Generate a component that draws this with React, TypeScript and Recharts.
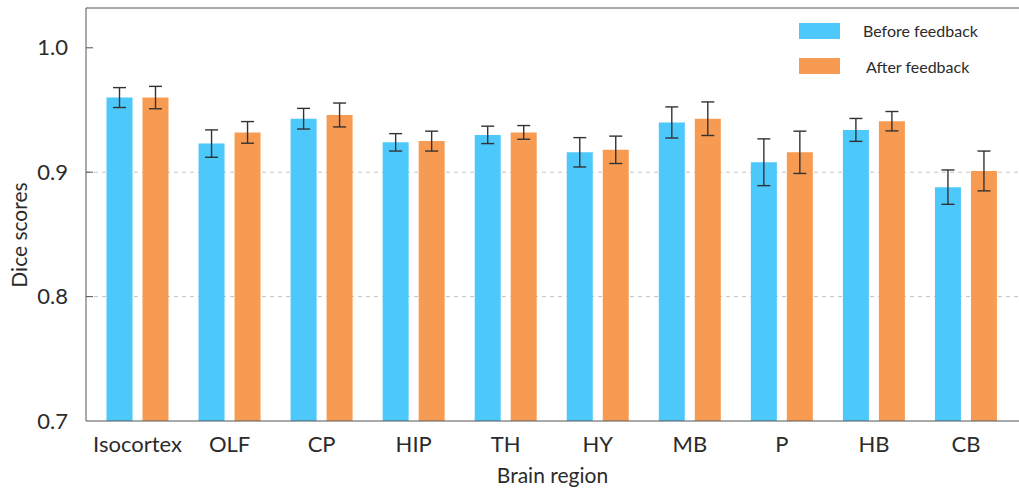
import React from 'react';
import {
  BarChart,
  Bar,
  XAxis,
  YAxis,
  CartesianGrid,
  ErrorBar,
  ReferenceLine,
  Legend,
} from 'recharts';

const regions = ['Isocortex', 'OLF', 'CP', 'HIP', 'TH', 'HY', 'MB', 'P', 'HB', 'CB'];
const seriesNames = ['Before feedback', 'After feedback'];
const beforeScores = [0.96, 0.923, 0.943, 0.924, 0.93, 0.916, 0.94, 0.908, 0.934, 0.888];
const beforeErrors = [0.008, 0.011, 0.0083, 0.007, 0.007, 0.0118, 0.0125, 0.0188, 0.0092, 0.0138];
const afterScores = [0.96, 0.932, 0.946, 0.925, 0.932, 0.918, 0.943, 0.916, 0.941, 0.901];
const afterErrors = [0.009, 0.0087, 0.0096, 0.008, 0.0055, 0.011, 0.0135, 0.017, 0.0078, 0.016];
const yTicks = [0.7, 0.8, 0.9, 1.0];
const gridValues = [0.8, 0.9];
const yMax = 1.032;

const data = regions.map((region, i) => ({
  region,
  before: beforeScores[i],
  beforeErr: beforeErrors[i],
  after: afterScores[i],
  afterErr: afterErrors[i],
}));

const FONT = 'Lato, "Open Sans", sans-serif';
const TEXT = '#2b2b2b';
const AXIS = '#555';

const YTick = ({ x, y, payload }: any) => (
  <g>
    {payload.value > 0.7 && (
      <line x1={x} x2={x + 7} y1={y} y2={y} stroke={AXIS} strokeWidth={1} />
    )}
    <text x={x - 18} y={y} dy={7.5} textAnchor="end" fontSize={22} fill={TEXT} fontFamily={FONT}>
      {payload.value.toFixed(1)}
    </text>
  </g>
);

const LegendBox = ({ payload }: any) => {
  const items = [...(payload || [])].sort(
    (a: any, b: any) => seriesNames.indexOf(a.value) - seriesNames.indexOf(b.value)
  );
  return (
    <div style={{ fontFamily: FONT, fontSize: 16, color: TEXT }}>
      {items.map((p: any, i: number) => (
        <div
          key={p.value}
          style={{ display: 'flex', alignItems: 'center', height: 16, marginBottom: i === 0 ? 19.5 : 0 }}
        >
          <div style={{ width: 41, height: 16, background: p.color }} />
          <span style={{ marginLeft: 23 + i * 3 }}>{p.value}</span>
        </div>
      ))}
    </div>
  );
};

const YLabel = () => (
  <text
    x={18}
    y={235}
    transform="rotate(-90 18 235)"
    textAnchor="middle"
    dominantBaseline="central"
    fontSize={21}
    fill={TEXT}
    fontFamily={FONT}
  >
    Dice scores
  </text>
);

const XLabel = ({ viewBox }: any) => (
  <text
    x={viewBox.x + viewBox.width / 2}
    y={483}
    textAnchor="middle"
    fontSize={21}
    fill={TEXT}
    fontFamily={FONT}
  >
    Brain region
  </text>
);

export default function App() {
  return (
    <div style={{ width: 1019, height: 493 }}>
      <style>{'body{margin:0}'}</style>
      <BarChart
        width={1019}
        height={493}
        data={data}
        margin={{ top: 8, right: 0, left: 0, bottom: 0 }}
        barSize={26}
        barGap={10}
      >
        <CartesianGrid
          vertical={false}
          stroke="#c4c4c4"
          strokeDasharray="4 4"
          horizontalValues={gridValues}
        />
        <XAxis
          dataKey="region"
          height={72}
          padding={{ left: 5.5, right: 7 }}
          tickLine={false}
          tickSize={0}
          tickMargin={15}
          axisLine={{ stroke: AXIS }}
          tick={{ fontSize: 22, fill: TEXT, fontFamily: FONT }}
          interval={0}
          label={<XLabel />}
        />
        <YAxis
          width={86}
          domain={[0.7, yMax]}
          ticks={yTicks}
          allowDataOverflow
          tickLine={false}
          tickSize={0}
          tickMargin={0}
          axisLine={{ stroke: AXIS }}
          tick={<YTick />}
          label={<YLabel />}
        />
        <ReferenceLine y={yMax} stroke={AXIS} strokeWidth={1} />
        <Legend
          layout="vertical"
          align="center"
          verticalAlign="middle"
          wrapperStyle={{ top: 22.5, left: 799, width: 'auto' }}
          content={<LegendBox />}
        />
        <Bar dataKey="before" name={seriesNames[0]} fill="#4cc8fa" isAnimationActive={false}>
          <ErrorBar dataKey="beforeErr" width={6.5} stroke="#333" strokeWidth={1.4} direction="y" />
        </Bar>
        <Bar dataKey="after" name={seriesNames[1]} fill="#f79b52" isAnimationActive={false}>
          <ErrorBar dataKey="afterErr" width={6.5} stroke="#333" strokeWidth={1.4} direction="y" />
        </Bar>
      </BarChart>
    </div>
  );
}
